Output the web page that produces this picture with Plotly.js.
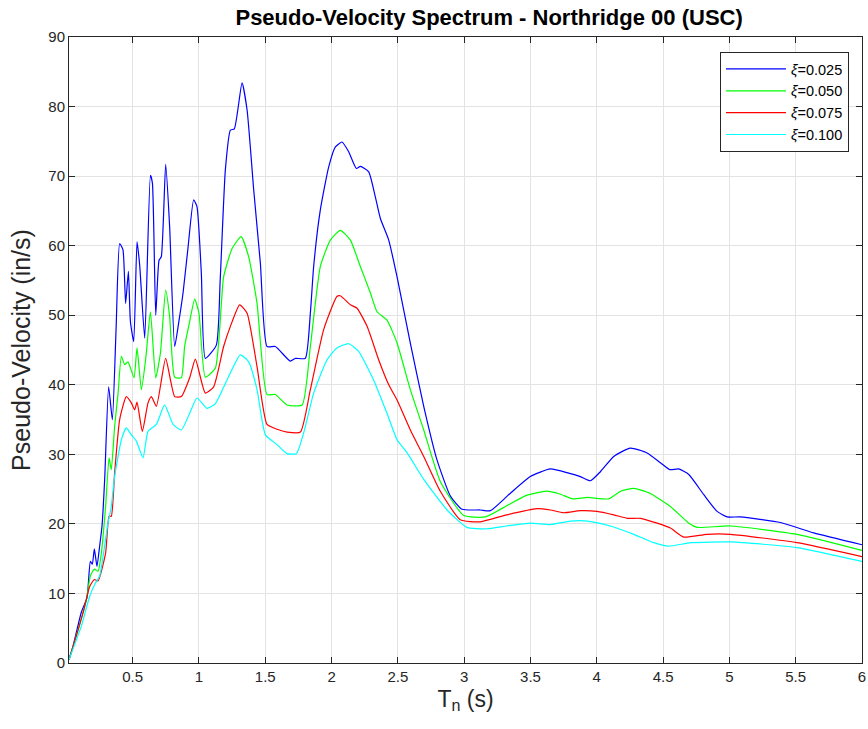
<!DOCTYPE html>
<html>
<head>
<meta charset="utf-8">
<script src="https://cdn.plot.ly/plotly-3.0.1.min.js"></script>
<style>
  html, body { margin: 0; padding: 0; background: #fff; }
  #chart { width: 868px; height: 729px; }
</style>
</head>
<body>
<div id="chart"></div>
<script>
// Pseudo-velocity response spectra, Northridge 00 (USC), four damping ratios.
// Periods Tn (s) and pseudo-velocity values (in/s) per damping ratio.

const T025 = [0.02, 0.05, 0.113, 0.156, 0.181, 0.196, 0.211, 0.231, 0.251, 0.269, 0.289, 0.319, 0.347, 0.375,
  0.402, 0.427, 0.447, 0.468, 0.483, 0.508, 0.533, 0.553, 0.591, 0.634, 0.649, 0.674, 0.699, 0.716, 0.749,
  0.779, 0.817, 0.850, 0.880, 0.918, 0.960, 0.985, 1.018, 1.048, 1.131, 1.160, 1.199, 1.237, 1.267, 1.325,
  1.363, 1.413, 1.463, 1.513, 1.576, 1.689, 1.727, 1.802, 1.840, 1.865, 1.915, 1.978, 2.029, 2.079, 2.129,
  2.187, 2.217, 2.280, 2.330, 2.368, 2.431, 2.494, 2.594, 2.695, 2.795, 2.896, 2.984, 3.122, 3.198, 3.348,
  3.499, 3.650, 3.788, 3.876, 3.952, 4.027, 4.128, 4.253, 4.379, 4.480, 4.550, 4.618, 4.694, 4.807, 4.907,
  4.983, 5.083, 5.385, 5.636, 6.000];
const V025 = [0.5, 2.4, 7.3, 9.4, 14.6, 14.2, 16.4, 13.9, 16.8, 19.7, 26.4, 39.7, 35.0, 48.0,
  60.3, 59.4, 51.7, 56.3, 49.1, 46.2, 60.6, 57.2, 46.7, 70.1, 69.0, 50.0, 57.9, 58.4, 71.7,
  62.7, 45.5, 49.3, 53.2, 59.8, 66.6, 65.6, 56.0, 43.8, 45.7, 55.0, 70.9, 76.6, 76.8, 83.4,
  79.5, 68.0, 57.5, 45.5, 45.5, 43.4, 43.8, 43.8, 50.3, 57.0, 65.1, 71.3, 74.2, 74.9, 73.5,
  71.1, 71.4, 70.6, 67.0, 63.9, 60.8, 55.5, 46.0, 36.9, 29.2, 24.0, 22.1, 22.0, 21.9, 24.4,
  26.8, 27.9, 27.3, 26.8, 26.2, 27.5, 29.7, 30.9, 30.2, 28.8, 27.8, 27.9, 27.1, 24.2, 21.8,
  21.0, 21.0, 20.2, 18.7, 17.0];

const T050 = [0.02, 0.05, 0.10, 0.15, 0.181, 0.211, 0.239, 0.264, 0.296, 0.322, 0.339, 0.364, 0.390,
  0.415, 0.440, 0.465, 0.510, 0.533, 0.566, 0.600, 0.634, 0.674, 0.709, 0.749, 0.779, 0.817, 0.867, 0.892,
  0.925, 0.968, 1.000, 1.048, 1.124, 1.186, 1.250, 1.318, 1.375, 1.438, 1.513, 1.576, 1.664, 1.778, 1.840,
  1.915, 1.991, 2.066, 2.142, 2.217, 2.293, 2.343, 2.418, 2.494, 2.594, 2.695, 2.820, 2.997, 3.160, 3.320,
  3.470, 3.620, 3.720, 3.820, 3.930, 4.090, 4.180, 4.280, 4.400, 4.555, 4.694, 4.757, 5.008, 5.510, 6.000];
const V050 = [0.5, 2.3, 5.5, 9.0, 12.5, 13.5, 13.2, 15.8, 22.5, 29.5, 27.8, 34.0, 38.8,
  44.1, 42.9, 43.3, 41.0, 45.3, 39.3, 44.0, 50.5, 41.0, 44.5, 53.6, 49.8, 41.1, 41.0, 45.5,
  48.6, 52.3, 50.3, 41.1, 42.4, 55.5, 59.6, 61.3, 58.4, 51.7, 38.6, 38.6, 37.1, 37.1, 45.5,
  57.0, 60.8, 62.2, 60.8, 57.0, 53.2, 50.5, 49.3, 46.0, 39.3, 33.5, 26.1, 21.2, 21.0, 22.6,
  24.1, 24.7, 24.3, 23.6, 23.8, 23.6, 24.7, 25.1, 24.4, 22.5, 20.1, 19.5, 19.7, 18.5, 16.2];

const T075 = [0.02, 0.075, 0.130, 0.176, 0.211, 0.239, 0.296, 0.322, 0.339, 0.364, 0.402, 0.452, 0.490,
  0.515, 0.533, 0.573, 0.616, 0.641, 0.679, 0.749, 0.817, 0.867, 0.930, 0.973, 1.048, 1.111, 1.186, 1.237,
  1.307, 1.363, 1.438, 1.513, 1.589, 1.664, 1.765, 1.840, 1.940, 2.040, 2.066, 2.142, 2.192, 2.268, 2.355,
  2.431, 2.494, 2.594, 2.695, 2.820, 2.970, 3.122, 3.320, 3.550, 3.650, 3.750, 3.876, 4.002, 4.128, 4.230,
  4.330, 4.455, 4.555, 4.655, 4.830, 5.008, 5.510, 6.000];
const V075 = [0.5, 3.9, 7.5, 11.0, 12.0, 11.8, 15.8, 21.1, 21.1, 27.3, 35.0, 38.3, 37.4,
  36.4, 37.5, 33.3, 37.4, 38.3, 36.9, 43.8, 38.3, 38.3, 41.0, 43.7, 38.8, 39.7, 45.5, 48.4,
  51.5, 50.3, 42.6, 34.3, 33.6, 33.2, 33.2, 39.3, 47.9, 52.7, 52.8, 51.5, 51.0, 48.4, 43.6,
  40.0, 37.8, 33.5, 29.7, 24.7, 20.6, 20.3, 21.3, 22.2, 22.0, 21.6, 21.9, 21.8, 21.3, 20.8,
  20.8, 20.1, 19.4, 18.1, 18.5, 18.5, 17.3, 15.3];

const T100 = [0.02, 0.05, 0.113, 0.176, 0.214, 0.251, 0.314, 0.339, 0.364, 0.415, 0.452, 0.490, 0.528,
  0.578, 0.616, 0.679, 0.741, 0.805, 0.867, 0.930, 0.985, 1.061, 1.124, 1.212, 1.312, 1.375, 1.438, 1.501,
  1.589, 1.664, 1.735, 1.790, 1.865, 1.966, 2.040, 2.129, 2.204, 2.317, 2.418, 2.494, 2.570, 2.695, 2.871,
  3.020, 3.170, 3.320, 3.500, 3.650, 3.800, 3.930, 4.100, 4.280, 4.430, 4.540, 4.710, 5.008, 5.510, 6.000];
const V100 = [0.5, 2.0, 5.3, 9.6, 11.3, 12.5, 20.1, 22.5, 26.8, 32.1, 33.8, 32.8, 31.9,
  29.5, 33.3, 34.3, 37.1, 34.3, 33.5, 35.9, 38.1, 36.6, 37.3, 40.7, 44.3, 43.3, 39.3, 32.8,
  31.4, 30.1, 30.1, 33.1, 38.8, 43.6, 45.3, 45.9, 44.8, 40.7, 35.9, 32.1, 30.2, 26.4, 22.0,
  19.5, 19.3, 19.7, 20.1, 19.9, 20.4, 20.4, 19.7, 18.5, 17.3, 16.8, 17.3, 17.4, 16.6, 14.6];

const seriesNames = ['<i>ξ</i>=0.025', '<i>ξ</i>=0.050', '<i>ξ</i>=0.075', '<i>ξ</i>=0.100'];
const seriesColors = ['#0000ff', '#00ff00', '#ff0000', '#00ffff'];

const xTicks = [0.5, 1, 1.5, 2, 2.5, 3, 3.5, 4, 4.5, 5, 5.5, 6];
const xTickText = ['0.5', '1', '1.5', '2', '2.5', '3', '3.5', '4', '4.5', '5', '5.5', '6'];
const yTicks = [0, 10, 20, 30, 40, 50, 60, 70, 80, 90];

const xs = [T025, T050, T075, T100];
const ys = [V025, V050, V075, V100];

const traces = xs.map((x, i) => ({
  x: x,
  y: ys[i],
  type: 'scatter',
  mode: 'lines',
  name: seriesNames[i],
  line: { color: seriesColors[i], width: 1.2, shape: 'spline', smoothing: 0.5 }
}));

const fontFam = '"Liberation Sans", Arial, Helvetica, sans-serif';
const axisColor = '#262626';

const axisCommon = {
  showline: true,
  linecolor: axisColor,
  linewidth: 1,
  mirror: 'ticks',
  ticks: 'inside',
  ticklen: 6,
  tickcolor: axisColor,
  showgrid: true,
  gridcolor: '#e3e3e3',
  gridwidth: 1,
  zeroline: false,
  tickfont: { family: fontFam, size: 15, color: axisColor }
};

const layout = {
  width: 868,
  height: 729,
  margin: { l: 69, r: 6, t: 37, b: 66 },
  paper_bgcolor: '#ffffff',
  plot_bgcolor: '#ffffff',
  font: { family: fontFam, color: axisColor },
  title: {
    text: '<b>Pseudo-Velocity Spectrum - Northridge 00 (USC)</b>',
    font: { family: fontFam, size: 22, color: '#000000' },
    x: 0.5635, xanchor: 'center',
    y: 0.976, yanchor: 'middle'
  },
  xaxis: Object.assign({}, axisCommon, {
    range: [0.02, 6],
    tickmode: 'array',
    tickvals: xTicks,
    ticktext: xTickText,
    title: { text: 'T<sub>n</sub> (s)', font: { family: fontFam, size: 23, color: axisColor }, standoff: 6 }
  }),
  yaxis: Object.assign({}, axisCommon, {
    range: [0, 90],
    tickmode: 'array',
    tickvals: yTicks,
    title: { text: 'Pseudo-Velocity (in/s)', font: { family: fontFam, size: 25, color: axisColor }, standoff: 10 }
  }),
  legend: {
    x: 0.9836, xanchor: 'right',
    y: 0.976, yanchor: 'top',
    bgcolor: '#ffffff',
    bordercolor: axisColor,
    borderwidth: 1,
    font: { family: fontFam, size: 14.5, color: '#000000' },
    itemwidth: 60,
    tracegroupgap: 0
  },
  showlegend: true
};

Plotly.newPlot('chart', traces, layout, { displayModeBar: false, staticPlot: true });
</script>
</body>
</html>
